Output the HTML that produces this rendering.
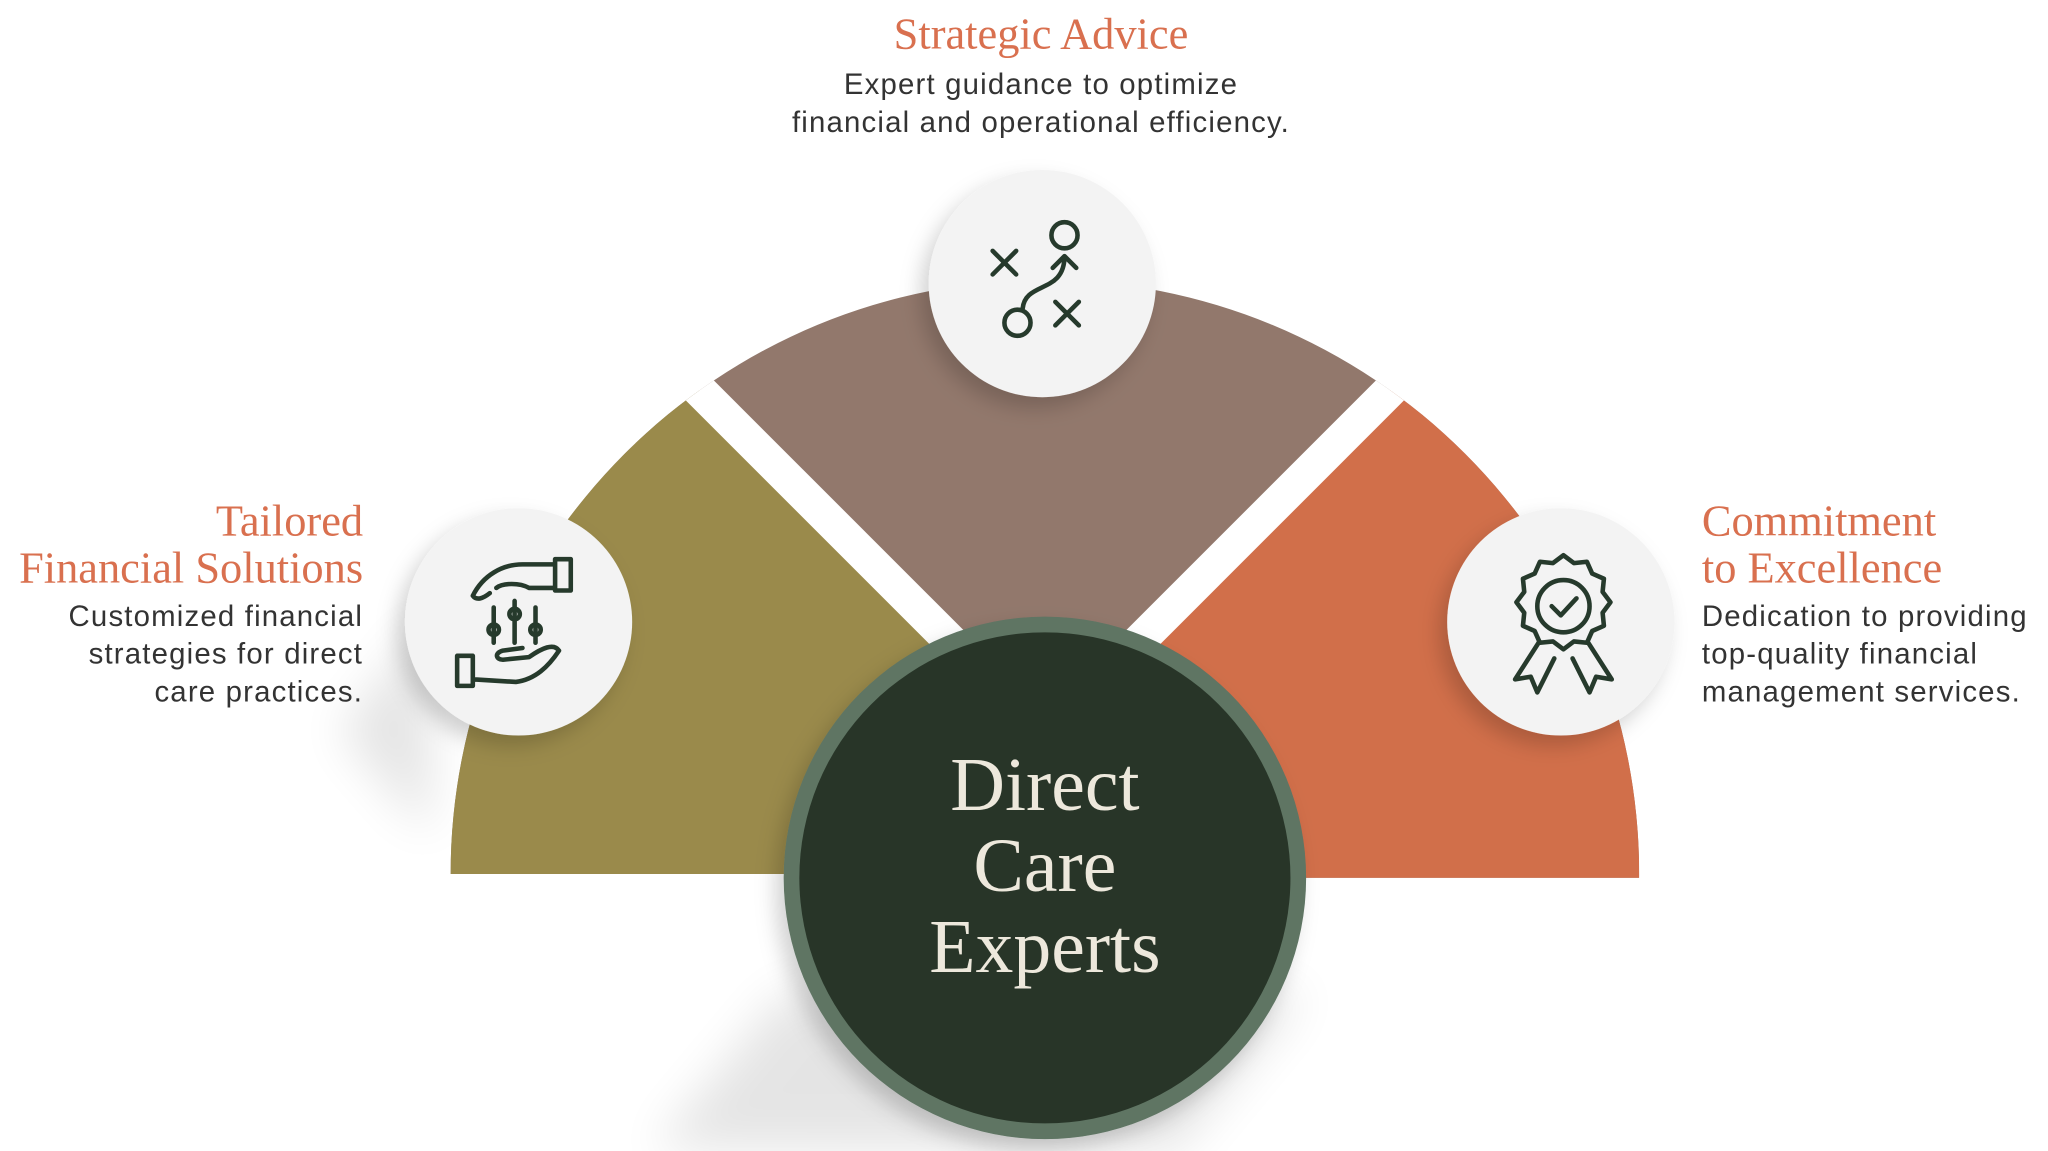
<!DOCTYPE html>
<html><head><meta charset="utf-8"><style>
html,body{margin:0;padding:0;background:#fff;width:2048px;height:1151px;overflow:hidden}
svg{display:block}
.t{font-family:"Liberation Serif",serif;fill:#D9704F;font-size:34px}
.b{font-family:"Liberation Sans",sans-serif;fill:#333;font-size:22.5px;letter-spacing:0.9px}
.ic{fill:none;stroke:#263a2c;stroke-width:3.5;stroke-linecap:round;stroke-linejoin:round}
</style></head><body>
<svg width="2048" height="1151" viewBox="0 0 1568 881" xmlns="http://www.w3.org/2000/svg">
<defs>
<filter id="bl" x="-50%" y="-50%" width="200%" height="200%"><feGaussianBlur stdDeviation="18"/></filter>
<filter id="sh" x="-50%" y="-50%" width="200%" height="200%"><feDropShadow dx="-6" dy="8" stdDeviation="8" flood-color="#000" flood-opacity="0.18"/></filter>
<clipPath id="half"><path d="M345,669 A455,455 0 0 1 1255,669 L1255,672 L800,672 L800,669 Z"/></clipPath>
</defs>
<g filter="url(#bl)" fill="#000" opacity="0.10">
<polygon points="600,760 500,880 900,881 1000,760"/>
<polygon points="330,470 260,560 330,640"/>
</g>
<g clip-path="url(#half)">
<rect x="300" y="150" width="1000" height="530" fill="#92786C"/>
<polygon points="800,563 400,163 300,163 300,680 800,680" fill="#9A8A4B"/>
<polygon points="800,563 1200,163 1300,163 1300,680 800,680" fill="#D16F4A"/>
<line x1="800" y1="563" x2="400" y2="163" stroke="#fff" stroke-width="26"/>
<line x1="800" y1="563" x2="1200" y2="163" stroke="#fff" stroke-width="26"/>
</g>
<circle cx="800" cy="672" r="200" fill="#5E7463" filter="url(#sh)"/>
<circle cx="800" cy="672" r="188" fill="#283528"/>
<g font-family="Liberation Serif,serif" fill="#EDE8DC" font-size="58" text-anchor="middle">
<text x="800" y="620">Direct</text>
<text x="800" y="682">Care</text>
<text x="800" y="744">Experts</text>
</g>
<circle cx="798" cy="217" r="87" fill="#F3F3F3" filter="url(#sh)"/>
<circle cx="397" cy="476" r="87" fill="#F3F3F3" filter="url(#sh)"/>
<circle cx="1195" cy="476" r="87" fill="#F3F3F3" filter="url(#sh)"/>
<g class="ic">
<path d="M760,192 L778,210 M778,192 L760,210"/>
<path d="M808,231 L826,249 M826,231 L808,249"/>
<circle cx="815" cy="180" r="10"/>
<circle cx="779" cy="247" r="10"/>
<path d="M783,236 C785,215 815,225 815,196 M806,205 L815,196 L824,205"/>
</g>
<g class="ic">
<path d="M362,456 C370,440 385,432 400,432 L425,432 M425,428 L437,428 L437,452 L425,452 Z M425,450 L405,450 C398,446 385,446 380,450 M362,456 C365,460 370,458 375,454"/>
<path d="M350,502 L362,502 L362,525 L350,525 Z M362,520 L395,522 C410,520 420,510 428,498 C424,492 415,496 405,503 L385,505 C380,505 378,500 385,498 L400,496"/>
<line x1="378" y1="465" x2="378" y2="492"/><circle cx="378" cy="482" r="4"/>
<line x1="394" y1="460" x2="394" y2="492"/><circle cx="394" cy="470" r="4"/>
<line x1="410" y1="465" x2="410" y2="492"/><circle cx="410" cy="482" r="4"/>
</g>
<g class="ic">
<path d="M1197,425 l8,6 10,-1 4,9 9,4 -1,10 6,8 -6,8 1,10 -9,4 -4,9 -10,-1 -8,6 -8,-6 -10,1 -4,-9 -9,-4 1,-10 -6,-8 6,-8 -1,-10 9,-4 4,-9 10,1 Z"/>
<circle cx="1197" cy="464" r="20"/>
<path d="M1188,464 L1195,471 L1207,458"/>
<path d="M1178,492 L1160,520 L1172,518 L1177,530 L1190,504"/>
<path d="M1216,492 L1234,520 L1222,518 L1217,530 L1204,504"/>
</g>
<text class="t" x="797" y="37" text-anchor="middle">Strategic Advice</text>
<text class="b" x="797" y="72" text-anchor="middle">Expert guidance to optimize</text>
<text class="b" x="797" y="101" text-anchor="middle">financial and operational efficiency.</text>
<text class="t" x="278" y="410" text-anchor="end">Tailored</text>
<text class="t" x="278" y="446" text-anchor="end">Financial Solutions</text>
<text class="b" x="278" y="479" text-anchor="end">Customized financial</text>
<text class="b" x="278" y="508" text-anchor="end">strategies for direct</text>
<text class="b" x="278" y="537" text-anchor="end">care practices.</text>
<text class="t" x="1303" y="410">Commitment</text>
<text class="t" x="1303" y="446">to Excellence</text>
<text class="b" x="1303" y="479">Dedication to providing</text>
<text class="b" x="1303" y="508">top-quality financial</text>
<text class="b" x="1303" y="537">management services.</text>
</svg>
</body></html>
